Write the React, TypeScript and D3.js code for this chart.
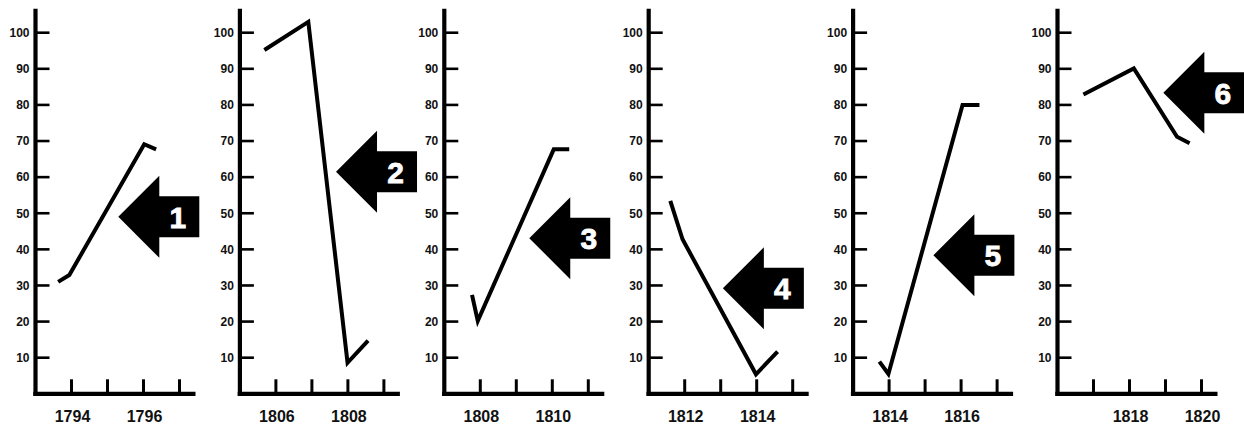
import React from "react";
import * as d3 from "d3";

// ---- data ----
const panelStartYears = [1793, 1805, 1807, 1811, 1813, 1816];
const panelTickYears = [
  [1794, 1795, 1796, 1797],
  [1806, 1807, 1808, 1809],
  [1808, 1809, 1810, 1811],
  [1812, 1813, 1814, 1815],
  [1814, 1815, 1816, 1817],
  [1817, 1818, 1819, 1820],
];
const panelLabelYears = [
  [1794, 1796],
  [1806, 1808],
  [1808, 1810],
  [1812, 1814],
  [1814, 1816],
  [1818, 1820],
];
const yTickValues = [10, 20, 30, 40, 50, 60, 70, 80, 90, 100];

const seriesYears = [
  [1793.63, 1793.94, 1796.02, 1796.35],
  [1805.68, 1806.9, 1807.99, 1808.56],
  [1807.77, 1807.93, 1810.04, 1810.47],
  [1811.6, 1811.94, 1813.98, 1814.58],
  [1813.73, 1813.98, 1816.04, 1816.51],
  [1816.72, 1818.12, 1819.32, 1819.67],
];
const seriesValues = [
  [31.0, 32.9, 69.1, 67.7],
  [95.2, 103.0, 8.6, 14.7],
  [27.4, 20.2, 67.7, 67.7],
  [53.4, 42.8, 5.4, 11.7],
  [8.9, 5.5, 80.0, 80.0],
  [82.9, 90.1, 71.2, 69.4],
];

const arrowLabels = ["1", "2", "3", "4", "5", "6"];
const arrowTipYears = [1795.3, 1807.67, 1809.36, 1813.06, 1815.23, 1818.94];
const arrowTipValues = [49.0, 61.5, 43.1, 29.2, 38.4, 83.4];

// ---- layout ----
const W = 1244;
const H = 425;
const FIRST_AXIS_X = 35.5;
const PANEL_STEP = 204.4;
const YEAR_PX = 36;
const X_SPAN_YEARS = 4.5;
const FONT = "'Liberation Sans', Arial, Helvetica, sans-serif";

const yScale = d3.scaleLinear().domain([0, 100]).range([393.8, 32.7]);
const panelX = d3.scaleLinear().domain([0, 1]).range([FIRST_AXIS_X, FIRST_AXIS_X + PANEL_STEP]);

function Arrow({ tipX, tipY, label }: { tipX: number; tipY: number; label: string }) {
  const headLen = 41;
  const headHalf = 41;
  const shaftHalf = 20.5;
  const shaftLen = 40;
  const bx = tipX + headLen;
  const pts: [number, number][] = [
    [tipX, tipY],
    [bx, tipY - headHalf],
    [bx, tipY - shaftHalf],
    [bx + shaftLen, tipY - shaftHalf],
    [bx + shaftLen, tipY + shaftHalf],
    [bx, tipY + shaftHalf],
    [bx, tipY + headHalf],
  ];
  return (
    <g>
      <path d={"M" + pts.map((p) => p.join(",")).join("L") + "Z"} fill="#000" />
      <text
        x={bx + 18.5}
        y={tipY + 11}
        textAnchor="middle"
        fontFamily={FONT}
        fontWeight="bold"
        fontSize={30}
        fill="#fff"
        stroke="#fff"
        strokeWidth={0.8}
      >
        {label}
      </text>
    </g>
  );
}

function Panel({ i }: { i: number }) {
  const ax = panelX(i);
  const start = panelStartYears[i];
  const x = d3
    .scaleLinear()
    .domain([start, start + X_SPAN_YEARS])
    .range([ax, ax + X_SPAN_YEARS * YEAR_PX]);
  const y0 = yScale(0);
  const line = d3
    .line<number>()
    .x((_, k) => x(seriesYears[i][k]))
    .y((v) => yScale(v));
  return (
    <g>
      {/* y axis */}
      <line x1={ax} x2={ax} y1={yScale(106.6)} y2={y0 + 2} stroke="#000" strokeWidth={4.2} />
      {yTickValues.map((v) => (
        <g key={v}>
          <line x1={ax} x2={ax + 14} y1={yScale(v)} y2={yScale(v)} stroke="#000" strokeWidth={2.6} />
          <text
            x={ax - 6}
            y={yScale(v) + 4.3}
            textAnchor="end"
            fontFamily={FONT}
            fontWeight="bold"
            fontSize={12}
            fill="#111"
          >
            {v}
          </text>
        </g>
      ))}
      {/* x axis */}
      <line x1={ax - 2.2} x2={x(start + X_SPAN_YEARS) - 2} y1={y0} y2={y0} stroke="#000" strokeWidth={4.2} />
      {panelTickYears[i].map((t) => (
        <line key={t} x1={x(t)} x2={x(t)} y1={y0} y2={y0 - 14.5} stroke="#000" strokeWidth={3} />
      ))}
      {panelLabelYears[i].map((t) => (
        <text
          key={t}
          x={x(t) + 1}
          y={421.7}
          textAnchor="middle"
          fontFamily={FONT}
          fontWeight="bold"
          fontSize={16}
          fill="#111"
        >
          {t}
        </text>
      ))}
      {/* series */}
      <path
        d={line(seriesValues[i]) || ""}
        fill="none"
        stroke="#000"
        strokeWidth={4}
        strokeLinejoin="miter"
      />
      <Arrow tipX={x(arrowTipYears[i])} tipY={yScale(arrowTipValues[i])} label={arrowLabels[i]} />
    </g>
  );
}

export default function App() {
  return (
    <svg
      width={W}
      height={H}
      viewBox={`0 0 ${W} ${H}`}
      style={{ position: "absolute", left: 0, top: 0, background: "#fff" }}
    >
      <rect width={W} height={H} fill="#fff" />
      {panelStartYears.map((_, i) => (
        <Panel key={i} i={i} />
      ))}
    </svg>
  );
}
